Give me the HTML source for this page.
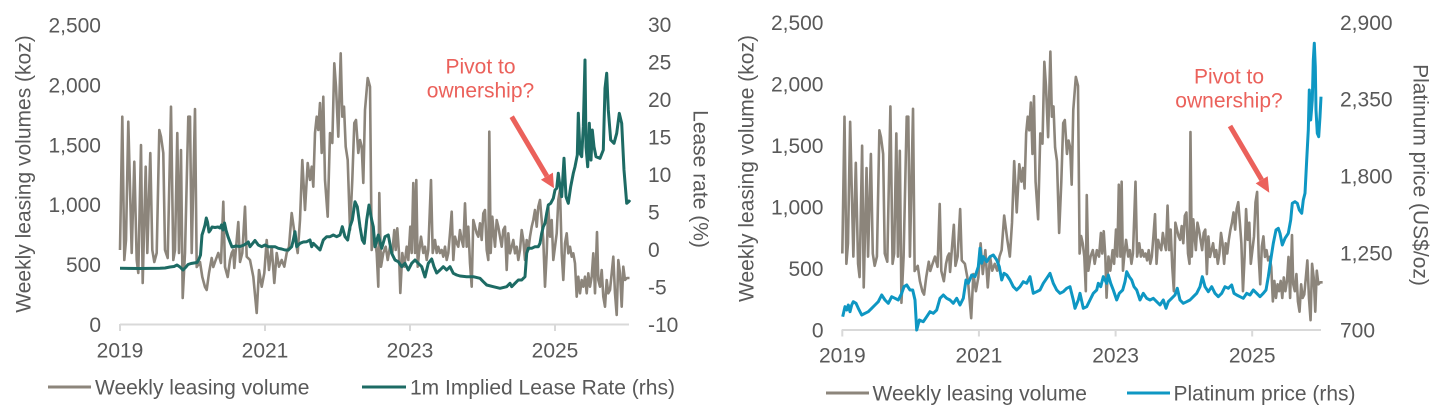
<!DOCTYPE html>
<html>
<head>
<meta charset="utf-8">
<style>
html,body{margin:0;padding:0;background:#fff;}
svg{display:block;}
text{font-family:"Liberation Sans",Arial,sans-serif;font-size:21px;fill:#595959;}
.ann{fill:#EB615B;}
</style>
</head>
<body>
<svg width="1447" height="411" viewBox="0 0 1447 411" xmlns="http://www.w3.org/2000/svg">
<defs>
<path id="gray" fill="none" stroke="#8C857B" stroke-width="2.6" stroke-linejoin="round" vector-effect="non-scaling-stroke" d="M120,250 L122.3,116.7 L124.3,260 L126,240 L128.3,121.7 L131.7,253 L134.3,161.7 L136.7,260 L138.3,273 L141,145 L142.7,283 L145.7,166.7 L147.3,253 L150.3,153 L152.3,250 L154.3,262 L156.7,253 L159.3,130 L161,136.7 L163.3,153 L165,250 L167.7,258 L171,106.7 L173.3,260 L175,250 L177.3,133 L179,253 L181,150 L182.7,298 L185,253 L188.3,116.7 L190,116.7 L191.7,253 L195,109 L196.7,267 L200,262 L202.3,277 L205,287 L206.7,290 L209,273 L211.7,258 L213.3,267 L215.7,260 L218.3,253 L221,263 L223.3,201.7 L225,267 L227.7,277 L230,260 L231.7,253 L233.3,250 L234.3,268 L236.7,240 L238.3,222 L240,262 L242.3,253 L245,206.7 L246.7,256.7 L250,260 L253.3,276.7 L256.7,313 L259,270 L261.7,286.7 L264.3,273 L266.7,240 L269,270 L271.7,246.7 L274.3,283 L276.7,253 L279,266.7 L281.7,260 L284.3,266.7 L286.7,253 L289,246.7 L291.7,213 L295,236.7 L297.7,253 L300,220 L302.3,160 L305,210 L307.7,163 L310,180 L311.7,166.7 L313.3,186.7 L315,133 L316.7,116.7 L318.3,130 L320,103 L321.7,153 L323.3,96.7 L325,180 L327.7,216.7 L330,133 L332.3,143 L334.3,63.3 L336,86.7 L338.3,136.7 L340.7,53.3 L342.3,116.7 L344,106.7 L345.7,146.7 L347.7,160 L350,230 L352.3,180 L354.3,123 L356,120 L358.3,153 L360,140 L361.7,146.7 L363.3,183 L365,110 L367.7,78 L370,86.7 L371.7,250 L373.3,233 L375,240 L376.7,253 L378.3,286.7 L379.3,193 L381,266.7 L383.3,253 L385.7,246.7 L387.7,260 L390,246.7 L392.3,253 L394.3,230 L395.7,250 L397.3,228.3 L399,253 L400.3,293 L402.3,253 L404.3,266.7 L406.7,246.7 L408.3,260 L410.3,226.7 L411.7,253 L413.3,183 L415,253 L416.3,180 L417.7,266.7 L419,253 L421,236.7 L423.3,253 L425,246.7 L426.7,260 L428.3,250 L431,180 L432.7,253 L435,240 L436.7,253 L438.3,246.7 L440,253 L441.7,250 L443.3,256.7 L445,246.7 L446.7,260 L448.3,253 L450,233.3 L451.7,211.7 L453.3,260 L455,236.7 L456.7,243.3 L458.3,246.7 L460,230 L461.7,240 L463.3,246.7 L465,203.3 L466.7,246.7 L468.3,226.7 L470,263.3 L471.7,286.7 L473.3,220 L475,226.7 L476.7,233.3 L478.3,236.7 L480,223.3 L481.7,240 L483.3,213.3 L485,210 L486.7,250 L488.3,260 L489.3,131.7 L490.7,253 L492.3,216.7 L493.7,233.3 L495,246.7 L496.7,220 L498.3,226.7 L500,236.7 L501.7,246.7 L503.3,230 L505,226.7 L506.7,270 L508.3,233.3 L510,253.3 L511.7,246.7 L513.3,240 L515,253.3 L516.7,246.7 L518.3,260 L520,250 L521.7,230 L523.3,240 L525,260 L526.7,240 L528.3,250 L530,236.7 L531.7,226.7 L533.3,220 L535,210 L536.7,226.7 L538.3,206.7 L540,200 L541.7,220 L543.3,240 L545,286.7 L546.7,253.3 L548.3,206.7 L550,236.7 L551.7,220 L553.3,260 L555,246.7 L556.7,233.3 L558.3,200 L560,190 L561.7,253.3 L563.3,280 L565,243.3 L566.7,233.3 L568.3,253.3 L570,246.7 L571.7,256.7 L573.3,253.3 L575,263.3 L576.7,296.7 L578.3,276.7 L580,293.3 L581.7,280 L583.3,286.7 L585,276.7 L586.7,293.3 L588.3,273.3 L590,286.7 L591.7,276.7 L593.3,253.3 L595,293.3 L597,232 L598.3,280 L600,286.7 L601.7,270 L603.3,296.7 L605,306.7 L606.7,280 L608.3,293.3 L610,290 L611.7,273.3 L613.3,256.7 L615,293.3 L616.7,315 L618.3,260 L620,273.3 L621.7,306.7 L623.3,266.7 L625,280 L627,278 L629.5,278"/>
</defs>

<!-- ================= LEFT CHART ================= -->
<!-- axis -->
<line x1="120" y1="324.5" x2="629" y2="324.5" stroke="#D9D9D9" stroke-width="2"/>
<g stroke="#D9D9D9" stroke-width="2">
<line x1="120" y1="324" x2="120" y2="331"/>
<line x1="265" y1="324" x2="265" y2="331"/>
<line x1="410" y1="324" x2="410" y2="331"/>
<line x1="555" y1="324" x2="555" y2="331"/>
</g>

<use href="#gray"/>

<path fill="none" stroke="#1D6B64" stroke-width="3" stroke-linejoin="round" d="M120,268.3 L140,268.5 L160,268.3 L165,268 L170,267 L174,266.5 L177,265 L180,267 L183,270 L186,267 L188,264.5 L191,263.5 L194,263 L197,262.5 L199,259 L200.5,255 L202,235 L203.3,231 L205,225 L206.3,218 L207.5,222 L209,232 L210.5,230 L212,227 L215,227.5 L218,227 L220,228 L221.5,225 L223,230 L224.5,223 L226,230 L228,236.7 L230,242 L232,247 L236,246 L240,246.5 L244,245 L246.7,243.3 L248.3,242 L250,246.7 L255,240.5 L258.3,245 L261.7,246.7 L265,245 L268.3,246.7 L271.7,246.7 L275,246.7 L278.3,248.3 L281.7,249 L285,250 L288.3,250 L291.7,246.7 L293.3,240 L295,231.7 L296.7,246.7 L300,243.3 L303.3,242 L306.7,241.7 L310,240 L311.7,246.7 L313.3,243.3 L316.7,246.7 L320,250 L323.3,240 L326.7,236.7 L330,236.7 L333.3,235 L336.7,236.7 L340,235 L342.3,226.7 L345,236.7 L347.7,240 L350,226.7 L352.3,220 L355,201.7 L357.3,206.7 L360,226.7 L362.3,240 L364.3,243.3 L366.7,220 L369,205 L371.7,220 L373.3,226.7 L375,246.7 L378.3,235 L381.7,248.3 L385,236.7 L388.3,235 L391.7,253.3 L395,260 L398.3,261.7 L401.7,266.7 L405,263.3 L408.3,270 L411.7,263.3 L415,260 L418.3,263.3 L421.7,266.7 L425,277 L428.3,263.3 L431.7,259 L434,266.7 L436.7,273 L440,270 L443.3,266.7 L446.7,270 L450,266.7 L453.3,273.3 L456.7,275 L460,276 L466.7,276.7 L473.3,276.7 L480,278.3 L483.3,281.7 L486.7,285 L493.3,286.7 L500,288.3 L506.7,286.7 L510,283.3 L511.7,286.7 L515,283.3 L518.3,280 L521.7,280 L525,276.7 L526.7,253.3 L528.3,248.3 L531.7,248.3 L535,246.7 L538.3,246.7 L540,243.3 L541.7,233.3 L543.3,226.7 L545,223.3 L546.7,213.3 L548.3,205 L550.7,203.3 L553.3,198.3 L555,190 L556.7,188.3 L558.3,173.3 L560,186.7 L561.7,196.7 L564,158.3 L566,196.7 L568.3,203.3 L570.7,186.7 L573.3,173.3 L575,166.7 L577.3,155 L578.3,113.3 L580,153.3 L581.7,156.7 L583.3,126.7 L585,60 L586,146.7 L587.7,166.7 L589.3,123.3 L591,160 L592.3,130 L594,146.7 L596,156.7 L600,158.3 L603.3,150 L605,88.3 L606.7,73.3 L608.3,110 L610.7,140 L614,143.3 L616.7,133.3 L619.3,113.3 L621.7,123.3 L624,170 L626.7,203.3 L628.7,201.7 L630,200"/>

<!-- left y labels -->
<g text-anchor="end">
<text x="101" y="32.5">2,500</text>
<text x="101" y="92.4">2,000</text>
<text x="101" y="152.3">1,500</text>
<text x="101" y="212.2">1,000</text>
<text x="101" y="272.1">500</text>
<text x="101" y="332">0</text>
</g>
<!-- right y labels -->
<g text-anchor="start">
<text x="648" y="31.8">30</text>
<text x="648" y="69.3">25</text>
<text x="648" y="106.8">20</text>
<text x="648" y="144.3">15</text>
<text x="648" y="181.8">10</text>
<text x="648" y="219.3">5</text>
<text x="648" y="256.8">0</text>
<text x="648" y="294.3">-5</text>
<text x="648" y="331.8">-10</text>
</g>
<!-- x labels -->
<g text-anchor="middle">
<text x="120" y="357.5">2019</text>
<text x="265" y="357.5">2021</text>
<text x="410" y="357.5">2023</text>
<text x="555" y="357.5">2025</text>
</g>
<text transform="translate(30.5,174) rotate(-90)" text-anchor="middle">Weekly leasing volumes (koz)</text>
<text transform="translate(693.5,179) rotate(90)" text-anchor="middle">Lease rate (%)</text>

<!-- annotation -->
<text class="ann" x="480.5" y="73.5" text-anchor="middle">Pivot to</text>
<text class="ann" x="480.5" y="97.5" text-anchor="middle">ownership?</text>
<line x1="511.7" y1="116.7" x2="546.9" y2="176.2" stroke="#EB615B" stroke-width="5"/>
<polygon points="554,188.3 552.9,172.6 540.9,179.8" fill="#EB615B"/>

<!-- legend -->
<line x1="48" y1="387" x2="91" y2="387" stroke="#8C857B" stroke-width="3"/>
<text x="95" y="394.5">Weekly leasing volume</text>
<line x1="362" y1="387" x2="406" y2="387" stroke="#1D6B64" stroke-width="3"/>
<text x="410" y="394.5">1m Implied Lease Rate (rhs)</text>

<!-- ================= RIGHT CHART ================= -->
<line x1="842" y1="330" x2="1321" y2="330" stroke="#D9D9D9" stroke-width="2"/>
<g stroke="#D9D9D9" stroke-width="2">
<line x1="842.3" y1="329.5" x2="842.3" y2="336.5"/>
<line x1="978.9" y1="329.5" x2="978.9" y2="336.5"/>
<line x1="1115.6" y1="329.5" x2="1115.6" y2="336.5"/>
<line x1="1252.2" y1="329.5" x2="1252.2" y2="336.5"/>
</g>

<use href="#gray" transform="matrix(0.9427 0 0 1.0267 729.2 -3.16)"/>

<path fill="none" stroke="#0E97C3" stroke-width="3" stroke-linejoin="round" d="M842.7,316.7 L845,306.7 L846.7,310 L848.3,305 L850,311.7 L851.7,305 L853.3,301.7 L856,303.3 L858.3,308.3 L861.7,315 L865,313.3 L868.3,311.7 L871.7,308.3 L875,305 L878.3,301.7 L881.7,295 L885,300 L888.3,303.3 L891.7,296.7 L895,298.3 L898.3,300 L901.7,293.3 L904,286.7 L906.7,285 L910,290 L912.7,290 L915,300 L916.7,330 L919.3,320 L923.3,321.7 L926.7,316.7 L930,311.7 L933.3,313.3 L936.7,310 L940,298.3 L943.3,295 L946.7,298.3 L950,300 L953.3,303.3 L956.7,298.3 L960,305 L963.3,298.3 L966,280 L968.3,283.3 L971.7,275 L975,276.7 L978.3,266.7 L980,248.3 L981.7,263.3 L983.3,256.7 L986.7,261.7 L990,256.7 L993.3,255 L996.7,260 L999.3,266.7 L1001.7,280 L1004,273.3 L1006.7,275 L1010,280 L1013.3,286.7 L1016.7,290 L1020,286.7 L1023.3,281.7 L1026.7,283.3 L1030,276.7 L1033.3,293.3 L1036.7,291.7 L1040,290 L1043.3,283.3 L1046.7,278.3 L1050,273.3 L1053.3,283.3 L1056.7,290 L1060,293.3 L1063.3,291.7 L1066.7,288.3 L1070,286.7 L1073.3,300 L1075,308.3 L1078.3,300 L1080,293.3 L1083.3,308.3 L1086.7,306.7 L1090,300 L1093.3,293.3 L1096.7,290 L1098.3,283.3 L1100.7,286.7 L1103.3,276.7 L1106.7,283.3 L1108.3,275 L1110.7,283.3 L1113.3,290 L1116.7,300 L1119.3,293.3 L1122.7,290 L1125,281.7 L1126.7,271.7 L1129.3,276.7 L1131.7,280 L1134,286.7 L1136.7,290 L1140,300 L1143.3,293.3 L1146.7,298.3 L1150,300 L1153.3,298.3 L1156.7,301.7 L1160,305 L1163.3,300 L1166,308.3 L1168.3,301.7 L1171.7,298.3 L1175,295 L1177.3,288.3 L1180,300 L1183.3,303.3 L1186.7,301.7 L1190,300 L1193.3,296.7 L1196.7,293.3 L1200,286.7 L1202.3,276.7 L1205,286.7 L1208.3,291.7 L1211.7,286.7 L1215,293.3 L1218.3,296.7 L1221.7,293.3 L1225,286.7 L1228.3,288.3 L1231.7,285 L1234,293.3 L1236.7,295 L1240,296.7 L1243.3,298.3 L1246.7,293.3 L1250,295 L1253.3,290 L1256.7,293.3 L1260,296.7 L1263.3,293.3 L1266,290 L1268.3,276.7 L1270.7,260 L1273.3,243.3 L1276,230 L1278.3,228.3 L1280,233.3 L1282.3,245 L1285,238.3 L1288.3,233.3 L1290.7,220 L1292.3,203.3 L1295,201.7 L1297.3,203.3 L1299.3,210 L1301.7,213.3 L1303.3,200 L1305,193.3 L1306.7,160 L1308.3,130 L1309.3,90 L1310.7,120 L1312.3,100 L1313.3,60 L1314.3,43.3 L1315.3,66.7 L1316,110 L1317.3,133.3 L1318.7,136.7 L1320,116.7 L1321,96.7"/>

<g text-anchor="end">
<text x="823.5" y="30">2,500</text>
<text x="823.5" y="91.5">2,000</text>
<text x="823.5" y="153">1,500</text>
<text x="823.5" y="214.5">1,000</text>
<text x="823.5" y="276">500</text>
<text x="823.5" y="337.5">0</text>
</g>
<g text-anchor="start">
<text x="1340" y="29.8">2,900</text>
<text x="1340" y="106.7">2,350</text>
<text x="1340" y="183.6">1,800</text>
<text x="1340" y="260.5">1,250</text>
<text x="1340" y="337.5">700</text>
</g>
<g text-anchor="middle">
<text x="842.3" y="362.5">2019</text>
<text x="978.9" y="362.5">2021</text>
<text x="1115.6" y="362.5">2023</text>
<text x="1252.2" y="362.5">2025</text>
</g>
<text transform="translate(753.5,168.5) rotate(-90)" text-anchor="middle">Weekly leasing volume (koz)</text>
<text transform="translate(1413.3,175) rotate(90)" text-anchor="middle">Platinum price (US$/oz)</text>

<text class="ann" x="1229" y="83.5" text-anchor="middle">Pivot to</text>
<text class="ann" x="1229" y="107.5" text-anchor="middle">ownership?</text>
<line x1="1230" y1="126" x2="1261.7" y2="179.8" stroke="#EB615B" stroke-width="5"/>
<polygon points="1269.3,192.7 1267.7,176.2 1255.7,183.4" fill="#EB615B"/>

<line x1="826" y1="393" x2="869" y2="393" stroke="#8C857B" stroke-width="3"/>
<text x="872.5" y="400.5">Weekly leasing volume</text>
<line x1="1127" y1="393" x2="1170" y2="393" stroke="#0E97C3" stroke-width="3"/>
<text x="1173.5" y="400.5">Platinum price (rhs)</text>
</svg>
</body>
</html>
